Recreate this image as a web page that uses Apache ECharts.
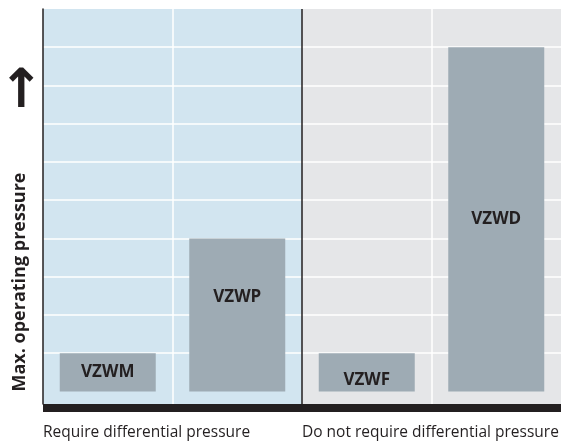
<!DOCTYPE html>
<html>
<head>
<meta charset="UTF-8"/>
<title>Max. operating pressure</title>
<style>
  html, body { margin: 0; padding: 0; background: #fff; }
  #chart { width: 564px; height: 441px; }
</style>
</head>
<body>
<div id="chart"></div>
<script src="https://cdn.jsdelivr.net/npm/echarts@6/dist/echarts.min.js"></script>
<script>
    // groups along the bottom, each one starts at this x value
    var groupNames = ['Require differential pressure', 'Do not require differential pressure'];
    var groupStart = [0, 2];
    // products and their (relative) max. operating pressure
    var products = ['VZWM', 'VZWP', 'VZWF', 'VZWD'];
    var productPos = [0.5, 1.5, 2.5, 3.5];
    var maxPressure = [1, 4, 1, 9];
    // grid lines
    var gridLevels = [1, 2, 3, 4, 5, 6, 7, 8, 9];
    var gridCols = [1, 3];

    var ink = '#231f20';
    var labelShift = { VZWP: -18, VZWF: 8 };

    var chart = echarts.init(document.getElementById('chart'));

    var barData = [];
    for (var i = 0; i < products.length; i++) {
        barData.push({
            name: products[i],
            value: [productPos[i], maxPressure[i]],
            label: { offset: [0, labelShift[products[i]] || 0] }
        });
    }

    var lines = [];
    gridLevels.forEach(function (v) {
        lines.push({ yAxis: v, lineStyle: { color: '#ffffff', width: 1.5, type: 'solid' } });
    });
    gridCols.forEach(function (v) {
        lines.push({ xAxis: v, lineStyle: { color: '#ffffff', width: 1.5, type: 'solid' } });
    });
    lines.push({ xAxis: groupStart[1], lineStyle: { color: ink, width: 1.5, type: 'solid' } });

    chart.setOption({
        animation: false,
        textStyle: { fontFamily: 'Open Sans' },
        grid: { left: 43, right: 0, top: 9, bottom: 37 },
        xAxis: {
            type: 'value',
            min: 0,
            max: 4,
            interval: 2,
            offset: 4,
            z: 4,
            axisLine: { onZero: false, lineStyle: { color: ink, width: 8, cap: 'butt' } },
            axisTick: { show: false },
            splitLine: { show: false },
            axisLabel: {
                margin: 17,
                align: 'left',
                color: ink,
                fontSize: 15.5,
                formatter: function (v) {
                    var k = groupStart.indexOf(v);
                    return k < 0 ? '' : groupNames[k];
                }
            }
        },
        yAxis: {
            type: 'value',
            min: -0.33,
            max: 10,
            z: 4,
            axisLine: { show: true, lineStyle: { color: ink, width: 1.5 } },
            axisTick: { show: false },
            axisLabel: { show: false },
            splitLine: { show: false }
        },
        graphic: [
            {
                type: 'text',
                x: 21,
                y: 93,
                style: {
                    text: '↑',
                    font: 'bold 54px "DejaVu Sans"',
                    fill: ink,
                    align: 'center',
                    verticalAlign: 'middle'
                }
            },
            {
                type: 'text',
                x: 20,
                y: 282,
                rotation: Math.PI / 2,
                style: {
                    text: 'Max. operating pressure',
                    font: 'bold 18px "Open Sans"',
                    fill: ink,
                    align: 'center',
                    verticalAlign: 'middle'
                }
            }
        ],
        series: [
            {
                type: 'bar',
                z: 3,
                barWidth: 96,
                data: barData,
                itemStyle: { color: '#9eabb4' },
                label: {
                    show: true,
                    position: 'inside',
                    formatter: '{b}',
                    color: ink,
                    fontWeight: 'bold',
                    fontSize: 17
                },
                markArea: {
                    silent: true,
                    z: 1,
                    data: [
                        [{ xAxis: groupStart[0], itemStyle: { color: '#d2e5f0' } }, { xAxis: groupStart[1] }],
                        [{ xAxis: groupStart[1], itemStyle: { color: '#e5e6e8' } }, { xAxis: 4 }]
                    ]
                },
                markLine: {
                    silent: true,
                    z: 2,
                    symbol: 'none',
                    label: { show: false },
                    data: lines
                }
            }
        ]
    });
</script>
</body>
</html>
